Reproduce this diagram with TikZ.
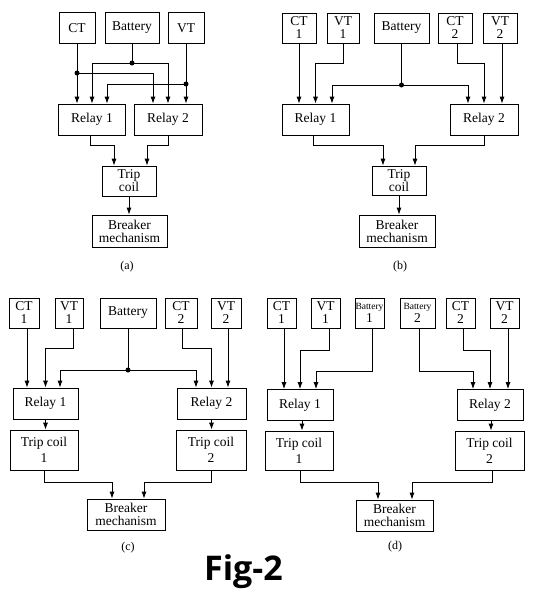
\documentclass[tikz,border=0pt]{standalone}
\usepackage{fontspec}
\setmainfont{Liberation Serif}
\newfontfamily\figfont{Open Sans}
\usetikzlibrary{arrows.meta}
\tikzset{
 box/.style={draw, line width=0.8pt, inner sep=0pt, align=center, font=\fontsize{13.5}{13}\selectfont},
 wire/.style={line width=0.8pt},
 arr/.style={wire, -{Latex[length=7pt,width=5pt]}},
 jdot/.style={circle, fill, inner sep=0pt, minimum size=5pt},
 capt/.style={font=\fontsize{12}{12}\selectfont}
}
\begin{document}
\begin{tikzpicture}[x=1pt,y=-1pt]
\useasboundingbox[fill=white] (0,0) rectangle (541,605);
% ---------------- (a)
\node[box, minimum width=36pt, minimum height=31pt] (ctA) at (77,28) {CT};
\node[box, minimum width=54pt, minimum height=31pt] (batA) at (132,28) {Battery};
\node[box, minimum width=36pt, minimum height=31pt] (vtA) at (186,28) {VT};
\node[box, minimum width=67pt, minimum height=31pt] (r1A) at (92,119.5) {Relay 1};
\node[box, minimum width=68pt, minimum height=31pt] (r2A) at (168,119.5) {Relay 2};
\node[box, minimum width=54pt, minimum height=30pt] (tcA) at (129,181) {Trip\\coil};
\node[box, minimum width=75pt, minimum height=32pt] (brA) at (129.5,231) {Breaker\\mechanism};
\node[capt] (capA) at (127,267) {(a)};
\coordinate (jcA) at (77,73);
\coordinate (jbA) at (132,63);
\coordinate (jvA) at (186,84);
\draw[arr] (ctA.south) -- (ctA.south |- r1A.north);
\draw[arr] (jcA) -| ([xshift=-15pt]r2A.north);
\draw[wire] (batA.south) -- (jbA);
\draw[arr] (jbA) -| (r1A.north);
\draw[arr] (jbA) -| (r2A.north);
\draw[arr] (vtA.south) -- (vtA.south |- r2A.north);
\draw[arr] (jvA) -| ([xshift=15pt]r1A.north);
\node[jdot] at (jcA) {};
\node[jdot] at (jbA) {};
\node[jdot] at (jvA) {};
\draw[arr] ([xshift=-2pt]r1A.south) -- ++(0,10) -| ([xshift=-15pt]tcA.north);
\draw[arr] (r2A.south) -- ++(0,10) -| ([xshift=18pt]tcA.north);
\draw[arr] (tcA.south) -- (tcA.south |- brA.north);
% ---------------- (b)
\node[box, minimum width=34pt, minimum height=30pt] (ct1B) at (299,28) {CT\\1};
\node[box, minimum width=32pt, minimum height=30pt] (vt1B) at (343,28) {VT\\1};
\node[box, minimum width=55pt, minimum height=30pt] (batB) at (401.5,28) {Battery};
\node[box, minimum width=34pt, minimum height=30pt] (ct2B) at (455,28) {CT\\2};
\node[box, minimum width=34pt, minimum height=30pt] (vt2B) at (500,28) {VT\\2};
\node[box, minimum width=67pt, minimum height=31pt] (r1B) at (315.5,119.5) {Relay 1};
\node[box, minimum width=68pt, minimum height=31pt] (r2B) at (484,119.5) {Relay 2};
\node[box, minimum width=54pt, minimum height=29pt] (tcB) at (399,180.5) {Trip\\coil};
\node[box, minimum width=76pt, minimum height=32pt] (brB) at (397,231) {Breaker\\mechanism};
\node[capt] (capB) at (400,267) {(b)};
\coordinate (jbB) at (401.5,85);
\draw[arr] (ct1B.south) -- (ct1B.south |- r1B.north);
\draw[arr] (vt1B.south) -- ++(0,20) -| (r1B.north);
\draw[wire] (batB.south) -- (jbB);
\draw[arr] (jbB) -| ([xshift=16.5pt]r1B.north);
\draw[arr] (jbB) -| ([xshift=-16pt]r2B.north);
\draw[arr] ([xshift=2pt]ct2B.south) -- ++(0,20) -| (r2B.north);
\draw[arr] ([xshift=2pt]vt2B.south) -- ([xshift=18pt]r2B.north);
\node[jdot] at (jbB) {};
\draw[arr] ([xshift=-2pt]r1B.south) -- ++(0,10) -| ([xshift=-16pt]tcB.north);
\draw[arr] (r2B.south) -- ++(0,10) -| ([xshift=16pt]tcB.north);
\draw[arr] (tcB.south) -- (tcB.south |- brB.north);
% ---------------- (c)
\node[box, minimum width=30pt, minimum height=30pt] (ct1C) at (24,313) {CT\\1};
\node[box, minimum width=28pt, minimum height=30pt] (vt1C) at (69,313) {VT\\1};
\node[box, minimum width=56pt, minimum height=30pt] (batC) at (128,313) {Battery};
\node[box, minimum width=32pt, minimum height=30pt] (ct2C) at (181,313) {CT\\2};
\node[box, minimum width=30pt, minimum height=30pt] (vt2C) at (226,313) {VT\\2};
\node[box, minimum width=65pt, minimum height=31pt] (r1C) at (45.5,403.5) {Relay 1};
\node[box, minimum width=69pt, minimum height=31pt] (r2C) at (211.5,403.5) {Relay 2};
\node[box, minimum width=68pt, minimum height=40pt, font=\fontsize{13.5}{16}\selectfont] (tc1C) at (44,450) {Trip coil\\1};
\node[box, minimum width=70pt, minimum height=40pt, font=\fontsize{13.5}{16}\selectfont] (tc2C) at (211,450) {Trip coil\\2};
\node[box, minimum width=78pt, minimum height=31pt] (brC) at (126,514.5) {Breaker\\mechanism};
\node[capt] (capC) at (128,548) {(c)};
\coordinate (jbC) at (128,370);
\draw[arr] ([xshift=3pt]ct1C.south) -- ([xshift=-18.5pt]r1C.north);
\draw[arr] ([xshift=4pt]vt1C.south) -- ++(0,20) -| (r1C.north);
\draw[wire] (batC.south) -- (jbC);
\draw[arr] (jbC) -| ([xshift=14.5pt]r1C.north);
\draw[arr] (jbC) -| ([xshift=-15.5pt]r2C.north);
\draw[arr] ([xshift=1pt]ct2C.south) -- ++(0,20) -| (r2C.north);
\draw[arr] ([xshift=2pt]vt2C.south) -- ([xshift=16.5pt]r2C.north);
\node[jdot] at (jbC) {};
\draw[arr] (r1C.south) -- (r1C.south |- tc1C.north);
\draw[arr] (r2C.south) -- (r2C.south |- tc2C.north);
\draw[arr] (tc1C.south) -- ++(0,12) -| ([xshift=-14pt]brC.north);
\draw[arr] (tc2C.south) -- ++(0,12) -| ([xshift=18pt]brC.north);
% ---------------- (d)
\node[box, minimum width=29pt, minimum height=30pt] (ct1D) at (281.5,313) {CT\\1};
\node[box, minimum width=29pt, minimum height=30pt] (vt1D) at (325.5,313) {VT\\1};
\node[box, minimum width=29pt, minimum height=30pt] (bat1D) at (369.5,313) {{\fontsize{9.5}{10}\selectfont Battery}\\1};
\node[box, minimum width=35pt, minimum height=30pt] (bat2D) at (417.5,313) {{\fontsize{9.5}{10}\selectfont Battery}\\2};
\node[box, minimum width=29pt, minimum height=30pt] (ct2D) at (460.5,313) {CT\\2};
\node[box, minimum width=29pt, minimum height=30pt] (vt2D) at (504.5,313) {VT\\2};
\node[box, minimum width=66pt, minimum height=31pt] (r1D) at (300,405) {Relay 1};
\node[box, minimum width=66pt, minimum height=31pt] (r2D) at (490,405) {Relay 2};
\node[box, minimum width=68pt, minimum height=39pt, font=\fontsize{13.5}{16}\selectfont] (tc1D) at (299,450.5) {Trip coil\\1};
\node[box, minimum width=69pt, minimum height=39pt, font=\fontsize{13.5}{16}\selectfont] (tc2D) at (489.5,450.5) {Trip coil\\2};
\node[box, minimum width=77pt, minimum height=31pt] (brD) at (394.5,515.5) {Breaker\\mechanism};
\node[capt] (capD) at (395,547) {(d)};
\draw[arr] ([xshift=2.5pt]ct1D.south) -- ([xshift=-16pt]r1D.north);
\draw[arr] ([xshift=3.5pt]vt1D.south) -- ++(0,22) -| (r1D.north);
\draw[arr] ([xshift=2.5pt]bat1D.south) -- ++(0,43) -| ([xshift=16pt]r1D.north);
\draw[arr] ([xshift=1.5pt]bat2D.south) -- ++(0,43) -| ([xshift=-17pt]r2D.north);
\draw[arr] ([xshift=2.5pt]ct2D.south) -- ++(0,22) -| (r2D.north);
\draw[arr] ([xshift=3.5pt]vt2D.south) -- ([xshift=18pt]r2D.north);
\draw[arr] ([xshift=2pt]r1D.south) -- ([xshift=3pt]tc1D.north);
\draw[arr] ([xshift=1pt]r2D.south) -- ([xshift=1.5pt]tc2D.north);
\draw[arr] ([xshift=1pt]tc1D.south) -- ++(0,12) -| ([xshift=-16.5pt]brD.north);
\draw[arr] ([xshift=2.5pt]tc2D.south) -- ++(0,12) -| ([xshift=17.5pt]brD.north);
% ---------------- title
\node[anchor=base, font=\figfont\bfseries\fontsize{34}{34}\selectfont] (fig) at (243.5,580) {Fig-2};
\end{tikzpicture}
\end{document}
